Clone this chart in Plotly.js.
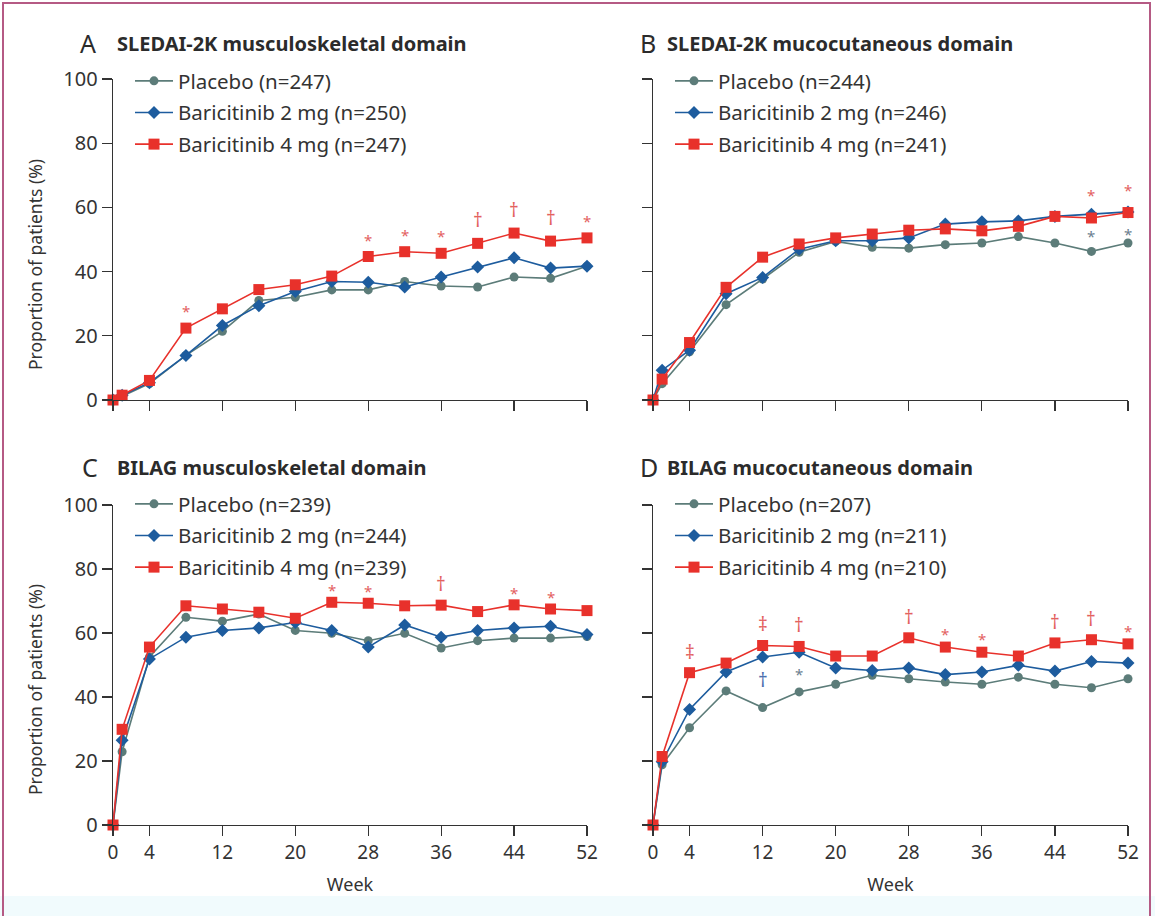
<!DOCTYPE html>
<html>
<head>
<meta charset="utf-8">
<script src="https://cdn.plot.ly/plotly-3.0.1.min.js"></script>
<style>
  html, body { margin: 0; padding: 0; background: #ffffff; }
  #wrap { position: relative; width: 1155px; height: 916px; overflow: hidden; }
  #strip { position: absolute; left: 0; top: 896px; width: 1155px; height: 20px; background: #f1fbfd; }
  #frame { position: absolute; left: 2px; top: 2px; width: 1149px; height: 930px; border: 2px solid #b55a84; box-sizing: border-box; pointer-events: none; z-index: 5; }
  #chart { position: absolute; left: 0; top: 0; width: 1155px; height: 916px; }
</style>
</head>
<body>
<div id="wrap">
  <div id="strip"></div>
  <div id="chart"></div>
  <div id="frame"></div>
</div>
<script>
// ---------------- DATA ----------------
const weeks = [0, 1, 4, 8, 12, 16, 20, 24, 28, 32, 36, 40, 44, 48, 52];
const xTickVals = [0, 4, 12, 20, 28, 36, 44, 52];
const yTickVals = [0, 20, 40, 60, 80, 100];

const panelLetters = ["A", "B", "C", "D"];
const panelTitles = [
  "SLEDAI-2K musculoskeletal domain",
  "SLEDAI-2K mucocutaneous domain",
  "BILAG musculoskeletal domain",
  "BILAG mucocutaneous domain"
];
const seriesNames = ["Placebo", "Baricitinib 2 mg", "Baricitinib 4 mg"];
const nA = [247, 250, 247];
const nB = [244, 246, 241];
const nC = [239, 244, 239];
const nD = [207, 211, 210];

// Panel A – SLEDAI-2K musculoskeletal
const placeboA = [0, 1.2, 5.1, 13.9, 21.4, 31.0, 32.0, 34.3, 34.3, 36.9, 35.5, 35.2, 38.3, 37.9, 41.7];
const bari2A   = [0, 1.5, 5.4, 13.9, 23.2, 29.4, 33.8, 36.9, 36.7, 35.2, 38.3, 41.4, 44.3, 41.1, 41.7];
const bari4A   = [0, 1.5, 6.1, 22.4, 28.4, 34.4, 35.9, 38.6, 44.7, 46.2, 45.7, 48.8, 52.0, 49.5, 50.5];
// Panel B – SLEDAI-2K mucocutaneous
const placeboB = [0, 5.1, 15.0, 29.7, 37.7, 46.0, 49.4, 47.6, 47.3, 48.4, 48.9, 50.9, 48.9, 46.3, 48.9];
const bari2B   = [0, 9.3, 15.5, 33.1, 38.2, 47.0, 49.6, 49.6, 50.5, 54.8, 55.5, 55.8, 57.2, 57.9, 58.6];
const bari4B   = [0, 6.5, 17.9, 35.1, 44.5, 48.6, 50.5, 51.7, 52.9, 53.3, 52.7, 54.1, 57.2, 56.7, 58.4];
// Panel C – BILAG musculoskeletal
const placeboC = [0, 22.9, 52.5, 64.9, 63.7, 65.9, 60.8, 59.9, 57.6, 59.9, 55.3, 57.6, 58.4, 58.4, 58.9];
const bari2C   = [0, 26.5, 51.9, 58.7, 60.8, 61.6, 63.3, 60.8, 55.6, 62.5, 58.7, 60.8, 61.6, 62.1, 59.5];
const bari4C   = [0, 29.9, 55.6, 68.5, 67.5, 66.5, 64.6, 69.6, 69.3, 68.5, 68.7, 66.7, 68.8, 67.5, 67.0];
// Panel D – BILAG mucocutaneous
const placeboD = [0, 18.8, 30.4, 41.9, 36.7, 41.6, 44.0, 46.8, 45.7, 44.7, 44.0, 46.2, 44.0, 42.9, 45.7];
const bari2D   = [0, 19.8, 36.1, 47.8, 52.5, 54.0, 49.1, 48.3, 49.1, 47.0, 47.8, 49.9, 48.1, 51.1, 50.6];
const bari4D   = [0, 21.4, 47.6, 50.6, 56.1, 55.8, 52.8, 52.8, 58.5, 55.6, 54.0, 52.8, 56.9, 57.9, 56.6];

// Significance marks (4 mg vs placebo above the red line; 2 mg vs placebo below the blue line)
const sig4Weeks = [[8, 28, 32, 36, 40, 44, 48, 52], [48, 52], [24, 28, 36, 44, 48], [4, 12, 16, 28, 32, 36, 44, 48, 52]];
const sig4Marks = [["*", "*", "*", "*", "†", "†", "†", "*"], ["*", "*"], ["*", "*", "†", "*", "*"], ["‡", "‡", "†", "†", "*", "*", "†", "†", "*"]];
const sig2Weeks = [[], [48, 52], [], [12, 16]];
const sig2Marks = [[], ["*", "*"], [], ["†", "*"]];

const yTitle = "Proportion of patients (%)";
const xTitle = "Week";

// ---------------- STYLE ----------------
const W = 1155, H = 916;
const FONT = "Noto Sans, Open Sans, DejaVu Sans, sans-serif";
const INK = "#333333";
const colors = ["#5c7c79", "#1d5c9e", "#e8312b"];
const symbols = ["circle", "diamond", "square"];
const msizes = [9, 10, 11];
const sigColor4 = "#e3625f";
const sigColors2 = ["#6b7f90", "#4d6fae"];

const panels = [
  {x: [113, 587], y: [79, 400], data: [placeboA, bari2A, bari4A], n: nA, letterX: 78, titleX: 115, titleY: 43, legX: 130, legY: 61, showX: false, showY: true, yTitleY: 265, starShift: 5, dagShift: 8},
  {x: [653, 1128], y: [79, 400], data: [placeboB, bari2B, bari4B], n: nB, letterX: 638, titleX: 665, titleY: 43, legX: 670, legY: 61, showX: false, showY: false, starShift: 11, dagShift: 8},
  {x: [113, 587], y: [505, 825], data: [placeboC, bari2C, bari4C], n: nC, letterX: 80, titleX: 115, titleY: 467, legX: 130, legY: 484, showX: true, showY: true, yTitleY: 690, starShift: 0, dagShift: 6},
  {x: [653, 1128], y: [505, 825], data: [placeboD, bari2D, bari4D], n: nD, letterX: 638, titleX: 665, titleY: 467, legX: 670, legY: 484, showX: true, showY: false, starShift: 1, dagShift: 6}
];

const traces = [];
const annotations = [];
const layout = {
  width: W, height: H,
  margin: {l: 0, r: 0, t: 0, b: 0},
  paper_bgcolor: "rgba(0,0,0,0)",
  plot_bgcolor: "rgba(0,0,0,0)",
  font: {family: FONT, color: INK, size: 19},
  showlegend: true,
  annotations: annotations
};

panels.forEach((p, i) => {
  const k = i === 0 ? "" : String(i + 1);
  const xa = "x" + k, ya = "y" + k;
  const legName = i === 0 ? "legend" : "legend" + (i + 1);

  layout["xaxis" + k] = {
    domain: [p.x[0] / W, p.x[1] / W], range: [0, 52], anchor: ya,
    tickvals: xTickVals, ticktext: xTickVals.map(String), showticklabels: p.showX,
    ticks: "outside", ticklen: 10, tickwidth: 1.3, tickcolor: INK,
    showline: true, linecolor: INK, linewidth: 1.3,
    showgrid: false, zeroline: false, fixedrange: true,
    tickfont: {size: 19, color: INK, family: FONT},
    title: p.showX ? {text: xTitle, font: {size: 18, color: INK, family: FONT}, standoff: 14} : {text: ""}
  };
  layout["yaxis" + k] = {
    domain: [1 - p.y[1] / H, 1 - p.y[0] / H], range: [0, 100], anchor: xa,
    tickvals: yTickVals, showticklabels: p.showY,
    ticks: "outside", ticklen: 10, tickwidth: 1.3, tickcolor: INK,
    showline: true, linecolor: INK, linewidth: 1.3,
    showgrid: false, zeroline: false, fixedrange: true,
    tickfont: {size: 20, color: INK, family: FONT},
    title: {text: ""}
  };
  layout[legName] = {
    x: p.legX / W, y: 1 - p.legY / H, xanchor: "left", yanchor: "top",
    xref: "paper", yref: "paper",
    bgcolor: "rgba(0,0,0,0)", borderwidth: 0,
    font: {size: 20.5, color: INK, family: FONT},
    itemwidth: 38,
    tracegroupgap: 2, itemclick: false, itemdoubleclick: false
  };

  p.data.forEach((vals, s) => {
    traces.push({
      type: "scatter", mode: "lines+markers",
      x: weeks, y: vals, xaxis: xa, yaxis: ya,
      name: seriesNames[s] + " (n=" + p.n[s] + ")",
      legend: legName, legendgroup: "g" + i + "_" + s,
      line: {color: colors[s], width: 1.6},
      marker: {symbol: symbols[s], size: msizes[s], color: colors[s], line: {width: 0}},
      cliponaxis: false, hoverinfo: "x+y"
    });
  });

  // y-axis title (placed like the original, slightly below the axis centre)
  if (p.showY) {
    annotations.push({xref: "paper", yref: "paper", x: 35 / W, y: 1 - p.yTitleY / H,
      xanchor: "center", yanchor: "middle", textangle: -90, text: yTitle, showarrow: false,
      font: {size: 17.5, color: INK, family: FONT}});
  }

  // Panel letter + title
  annotations.push({xref: "paper", yref: "paper", x: p.letterX / W, y: 1 - p.titleY / H,
    xanchor: "left", yanchor: "middle", text: panelLetters[i], showarrow: false,
    font: {size: 25, color: "#2b2b2b", family: FONT}});
  annotations.push({xref: "paper", yref: "paper", x: p.titleX / W, y: 1 - p.titleY / H,
    xanchor: "left", yanchor: "middle", text: "<b>" + panelTitles[i] + "</b>", showarrow: false,
    font: {size: 20, color: "#2b2b2b", family: FONT}});

  // significance marks above red line
  sig4Weeks[i].forEach((w, j) => {
    const m = sig4Marks[i][j];
    const v = p.data[2][weeks.indexOf(w)];
    annotations.push({xref: xa, yref: ya, x: w, y: v, text: m, showarrow: false,
      xanchor: "center", yanchor: "bottom", yshift: m === "*" ? p.starShift : p.dagShift,
      font: {size: m === "*" ? 15 : 19, color: sigColor4, family: FONT}});
  });
  // significance marks below blue line
  sig2Weeks[i].forEach((w, j) => {
    const m = sig2Marks[i][j];
    const v = p.data[1][weeks.indexOf(w)];
    annotations.push({xref: xa, yref: ya, x: w, y: v, text: m, showarrow: false,
      xanchor: "center", yanchor: "top", yshift: m === "*" ? -10 : -8,
      font: {size: m === "*" ? 15 : 19, color: m === "*" ? sigColors2[0] : sigColors2[1], family: FONT}});
  });
});

Plotly.newPlot("chart", traces, layout, {staticPlot: true, displayModeBar: false});
</script>
</body>
</html>
